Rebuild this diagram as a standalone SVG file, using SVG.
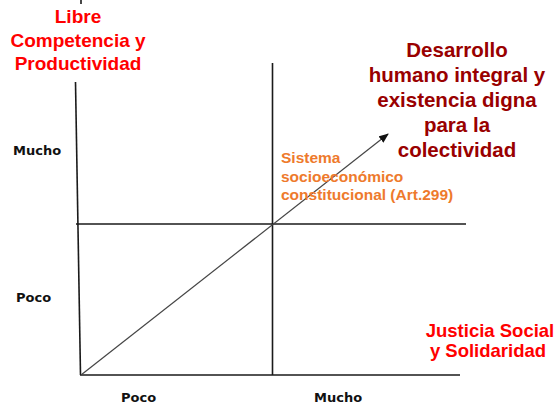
<svg xmlns="http://www.w3.org/2000/svg" width="556" height="406" viewBox="0 0 556 406">
<style>
.red{font-family:"Liberation Sans",Arial,sans-serif;font-weight:bold;font-size:18.5px;fill:#ff0000;text-anchor:middle}
.big{font-size:19px}
.dred{font-family:"Liberation Sans",Arial,sans-serif;font-weight:bold;font-size:20.5px;fill:#990000;text-anchor:middle}
.org{font-family:"Liberation Sans",Arial,sans-serif;font-weight:bold;font-size:15.5px;fill:#ee7a2c}
.lab{font-family:"DejaVu Sans",Verdana,sans-serif;font-weight:bold;font-size:13px;fill:#111}
.ax{stroke:#1a1a1a;stroke-width:1.6;fill:none}
.diag{stroke:#444;stroke-width:1.2;fill:none}
</style>
<defs>
<marker id="arr" markerWidth="10" markerHeight="8" refX="9" refY="4" orient="auto" markerUnits="userSpaceOnUse">
<path d="M0,0 L10,4 L0,8 z" fill="#111"/>
</marker>
</defs>
<rect width="556" height="406" fill="#fff"/>
<g id="connectors">
<line class="ax" x1="81" y1="0" x2="81" y2="4"/>
<line class="ax" x1="75.5" y1="82" x2="80.5" y2="375"/>
<line class="ax" x1="80" y1="375" x2="460" y2="375"/>
<line class="ax" x1="76" y1="224" x2="466" y2="224"/>
<line class="ax" x1="272.5" y1="63" x2="272.5" y2="375"/>
<line class="diag" x1="81" y1="375" x2="388" y2="134" marker-end="url(#arr)"/>
</g>
<g id="y-axis-label">
<text class="red big" x="78" y="23">Libre</text>
<text class="red big" x="78" y="47">Competencia y</text>
<text class="red big" x="78" y="70">Productividad</text>
</g>
<g id="x-axis-label">
<text class="red" x="490" y="337">Justicia Social</text>
<text class="red" x="488" y="357">y Solidaridad</text>
</g>
<g id="goal">
<text class="dred" x="457" y="57">Desarrollo</text>
<text class="dred" x="457" y="82">humano integral y</text>
<text class="dred" x="457" y="107">existencia digna</text>
<text class="dred" x="457" y="132">para la</text>
<text class="dred" x="457" y="157">colectividad</text>
</g>
<g id="system">
<text class="org" x="281" y="163">Sistema</text>
<text class="org" x="281" y="181.5">socioeconómico</text>
<text class="org" x="281" y="200">constitucional (Art.299)</text>
</g>
<g id="y-ticks">
<text class="lab" x="13" y="155">Mucho</text>
<text class="lab" x="16" y="302">Poco</text>
</g>
<g id="x-ticks">
<text class="lab" x="121" y="402">Poco</text>
<text class="lab" x="314" y="402">Mucho</text>
</g>
</svg>
